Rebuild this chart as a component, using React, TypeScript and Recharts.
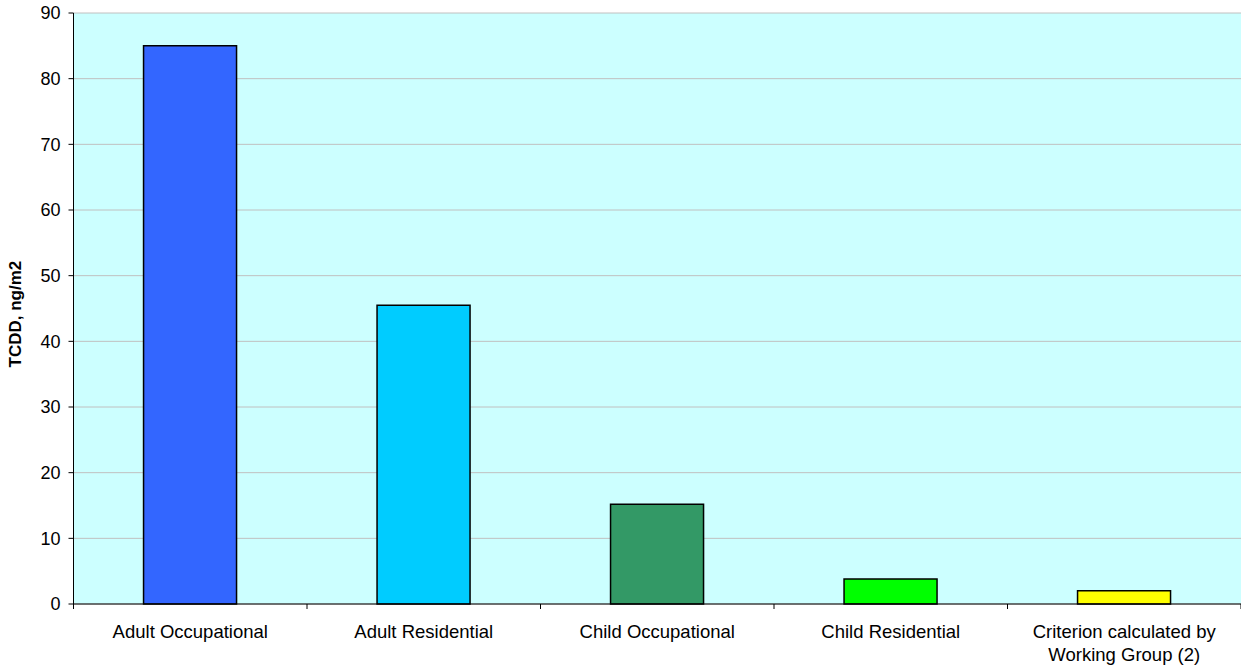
import React from "react";
import { BarChart, Bar, XAxis, YAxis, CartesianGrid, Cell } from "recharts";

const categories = [
  "Adult Occupational",
  "Adult Residential",
  "Child Occupational",
  "Child Residential",
  "Criterion calculated by\nWorking Group (2)",
];
const values = [85, 45.5, 15.2, 3.8, 2.0];
const colors = ["#3366ff", "#00ccff", "#339966", "#00ff00", "#ffff00"];
const yTicks = [0, 10, 20, 30, 40, 50, 60, 70, 80, 90];

const data = categories.map((c, i) => ({ name: c, value: values[i] }));

const FONT = "Liberation Sans, Arial, sans-serif";
const CHART_W = 1241;
const Y_AXIS_W = 73.5;
const BAND = (CHART_W - Y_AXIS_W) / categories.length;

const XTick = (props: any) => {
  const { x, y, payload, index } = props;
  const lines = String(payload.value).split("\n");
  return (
    <g transform={`translate(${x},${y})`}>
      {index === 0 && (
        <line x1={-BAND / 2} x2={-BAND / 2} y1={-7} y2={-2} stroke="#000" />
      )}
      <line x1={BAND / 2} x2={BAND / 2} y1={-7} y2={-2} stroke="#000" />
      {lines.map((l: string, i: number) => (
        <text
          key={i}
          x={0}
          y={0}
          dy={27 + i * 23}
          textAnchor="middle"
          fontFamily={FONT}
          fontSize={18.5}
          fill="#000"
        >
          {l}
        </text>
      ))}
    </g>
  );
};

export default function App() {
  return (
    <div style={{ position: "absolute", left: 0, top: 0, width: 1241, height: 665, background: "#fff" }}>
      <BarChart
        width={CHART_W}
        height={665}
        data={data}
        margin={{ top: 13, right: 0, bottom: 11, left: 0 }}
        barCategoryGap="30%"
      >
        <CartesianGrid
          horizontal={true}
          vertical={false}
          stroke="#c0c0c0"
          fill="#ccffff"
          fillOpacity={1}
        />
        <XAxis
          dataKey="name"
          height={50}
          interval={0}
          tick={<XTick />}
          tickLine={false}
          axisLine={{ stroke: "#000" }}
          tickSize={5}
        />
        <YAxis
          width={Y_AXIS_W}
          domain={[0, 90]}
          ticks={yTicks}
          interval={0}
          tickSize={5}
          tickMargin={8}
          tick={{ fontFamily: FONT, fontSize: 18, fill: "#000" }}
          tickLine={{ stroke: "#000" }}
          axisLine={{ stroke: "#000" }}
          label={{
            value: "TCDD, ng/m2",
            angle: -90,
            position: "insideLeft",
            dx: 10,
            dy: 59,
            style: { fontFamily: FONT, fontSize: 17, fontWeight: "bold", fill: "#000" },
          }}
        />
        <Bar dataKey="value" stroke="#000" strokeWidth={1.5} isAnimationActive={false}>
          {data.map((d, i) => (
            <Cell key={i} fill={colors[i]} />
          ))}
        </Bar>
      </BarChart>
    </div>
  );
}
